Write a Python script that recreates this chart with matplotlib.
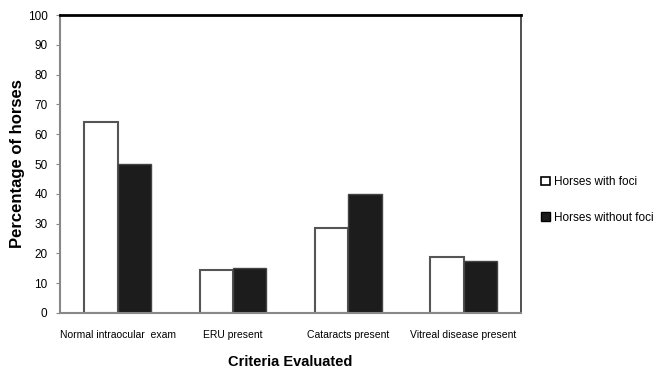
import numpy as np
import matplotlib
matplotlib.use("Agg")
import matplotlib.pyplot as plt
from matplotlib.patches import Patch

plt.rcParams['font.family'] = ['Liberation Sans', 'DejaVu Sans']

categories = ["Normal intraocular  exam", "ERU present", "Cataracts present", "Vitreal disease present"]
with_foci = [64, 14.3, 28.6, 18.7]
without_foci = [50, 15, 40, 17.6]
yticks = list(range(0, 101, 10))

fig = plt.figure(figsize=(6.57, 3.69), dpi=100)
ax = fig.add_axes([0.0913, 0.152, 0.702, 0.807])

x = np.arange(len(categories))
w = 0.29
ax.bar(x - w / 2, with_foci, w, color="white", edgecolor="#555555", linewidth=1.5)
ax.bar(x + w / 2, without_foci, w, color="#1c1c1c", edgecolor="#444444", linewidth=1.0)

ax.set_xlim(-0.5, 3.5)
ax.set_ylim(0, 100)
ax.set_yticks(yticks)
ax.set_xticks(x)
ax.set_xticklabels(categories, fontsize=7.5)
ax.tick_params(axis='x', length=0, pad=12)
ax.tick_params(axis='y', length=3, color="#888888", labelsize=8.5, pad=6)

ax.spines['left'].set_color("#888888")
ax.spines['left'].set_linewidth(1.5)
ax.spines['bottom'].set_color("#888888")
ax.spines['bottom'].set_linewidth(1.5)
ax.spines['top'].set_color("black")
ax.spines['top'].set_linewidth(2)
ax.spines['right'].set_color("#333333")
ax.spines['right'].set_linewidth(1.2)

ax.set_xlabel("Criteria Evaluated", fontsize=10.5, fontweight="bold", va="center")
ax.set_ylabel("Percentage of horses", fontsize=12, fontweight="bold", va="center")
ax.xaxis.set_label_coords(0.5, -0.165)
ax.yaxis.set_label_coords(-0.092, 0.5)

handles = [Patch(facecolor="white", edgecolor="black", linewidth=1.2, label="Horses with foci"),
           Patch(facecolor="#1c1c1c", edgecolor="black", linewidth=1.0, label="Horses without foci")]
fig.legend(handles=handles, loc="center left", bbox_to_anchor=(0.815, 0.458),
           frameon=False, fontsize=8.5, handlelength=0.75, handleheight=0.75,
           handletextpad=0.35, labelspacing=2.0, borderpad=0)

fig.savefig("out.png", dpi=100)
